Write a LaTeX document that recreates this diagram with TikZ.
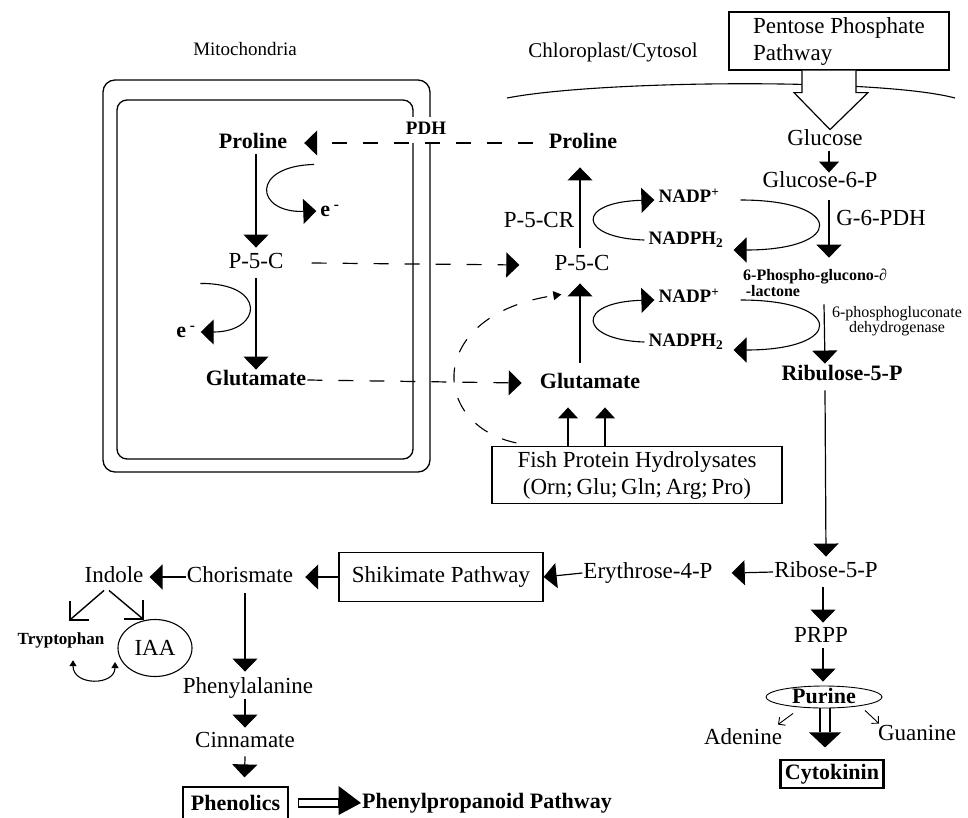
\documentclass[tikz,border=0pt]{standalone}
\usepackage{fontspec}
\setmainfont{Liberation Serif}
\usetikzlibrary{arrows.meta,shapes.geometric}
\newcommand{\fmain}{\fontsize{23}{27}\selectfont}
\newcommand{\fbld}{\fontsize{22}{27}\selectfont\bfseries}
\newcommand{\fmid}{\fontsize{19}{23}\selectfont}
\begin{document}
\begin{tikzpicture}[x=1pt,y=1pt,
  txt/.style={inner sep=1pt,font=\fmain,text height=16pt,text depth=4.5pt},
  btxt/.style={txt,font=\fbld},
  ntxt/.style={inner sep=1pt,font=\fmid\bfseries,text height=13pt,text depth=4pt},
  boxn/.style={draw,line width=1.2pt,inner sep=0pt,font=\fmain},
  arr/.style={line width=1.2pt,-{Triangle[length=13pt,width=25pt]}},
  sarr/.style={line width=1.2pt,-{Triangle[length=11pt,width=20pt]}},
  dsh/.style={dash pattern=on 15pt off 16pt},
  barbline/.style={line width=1.4pt},
  tarr/.style={line width=0.9pt,-{Straight Barb[length=5pt,width=10pt]}},
  thin/.style={line width=1.1pt},
]
\useasboundingbox (0,0) rectangle (968,-817);
\fill[white] (0,0) rectangle (968,-817);

% titles
\node[txt,font=\fmid] (mitT) at (245,-50) {Mitochondria};
\node[txt,font=\fontsize{21}{25}\selectfont] (chlT) at (613,-52) {Chloroplast/Cytosol};
\node[boxn,minimum width=220pt,minimum height=58pt,align=left] (ppp) at (839,-41) {Pentose Phosphate\\Pathway};

% membrane and inflow arrow
\draw[thin] (507,-98) .. controls (600,-80) and (880,-78) .. (955,-98);
\draw[line width=1.2pt,fill=white] ([xshift=-37pt]ppp.south) -- ++(0,-22) -- ++(-8,0) -- ++(36,-37) -- ++(38,37) -- ++(-12,0) -- ++(0,22);

% mitochondria
\draw[line width=1.3pt,rounded corners=12pt] (103,-80) rectangle (430,-472);
\draw[line width=1.3pt,rounded corners=10pt] (117,-100) rectangle (413,-459);
\node[ntxt,fill=white,minimum height=26pt,inner xsep=2pt] (pdh) at (426,-130) {PDH};
\node[btxt] (mPro) at (253,-143) {Proline};
\node[txt] (mP5C) at (256,-263) {P-5-C};
\node[btxt] (mGlu) at (256,-380) {Glutamate};
\node[btxt] (e1) at (330,-211) {e\,\textsuperscript{-}};
\node[btxt] (e2) at (186,-332) {e\,\textsuperscript{-}};

\draw[arr] ([xshift=3pt]mPro.south) -- ([yshift=4pt]mP5C.north);
\draw[arr] ([yshift=-4pt]mP5C.south) -- ([yshift=-1pt]mGlu.north);
\draw[arr,line width=1.1pt] ([xshift=26pt,yshift=-10pt]mPro.south east) .. controls (250,-166) and (255,-213) .. ([xshift=-3pt]e1.west);
\draw[arr,line width=1.1pt] ([xshift=-27pt,yshift=-9pt]mP5C.south west) .. controls (268,-283) and (262,-332) .. ([xshift=4pt]e2.east);

% chloroplast
\node[btxt] (cPro) at (583,-143) {Proline};
\node[txt] (p5cr) at (539,-222) {P-5-CR};
\node[txt] (cP5C) at (582,-265) {P-5-C};
\node[btxt] (cGlu) at (590,-383) {Glutamate};
\node[ntxt] (nadp1) at (689,-198) {NADP\textsuperscript{+}};
\node[ntxt] (nadph1) at (686,-240) {NADPH\textsubscript{2}};
\node[ntxt] (nadp2) at (689,-298) {NADP\textsuperscript{+}};
\node[ntxt] (nadph2) at (686,-342) {NADPH\textsubscript{2}};

\draw[arr] ([xshift=-2pt,yshift=6pt]cP5C.north) -- ([xshift=-3pt,yshift=-13pt]cPro.south);
\draw[arr] ([xshift=-10pt,yshift=9pt]cGlu.north) -- ([xshift=-2pt,yshift=-7pt]cP5C.south);

\draw[arr,thin] ([xshift=-3pt]nadph1.west) .. controls (578,-238) and (575,-202) .. ([xshift=-3pt,yshift=-2pt]nadp1.west);
\draw[arr,thin] ([xshift=20pt,yshift=-2pt]nadp1.east) .. controls (845,-200) and (845,-250) .. ([xshift=9pt,yshift=-10pt]nadph1.east);
\draw[arr,thin] ([xshift=-3pt]nadph2.west) .. controls (578,-340) and (575,-302) .. ([xshift=-3pt,yshift=-2pt]nadp2.west);
\draw[arr,thin] ([xshift=20pt,yshift=-2pt]nadp2.east) .. controls (845,-300) and (845,-350) .. ([xshift=9pt,yshift=-8pt]nadph2.east);

% pentose phosphate chain
\node[txt] (gluc) at (825,-140) {Glucose};
\node[txt] (g6p) at (820,-182) {Glucose-6-P};
\node[txt] (g6pdh) at (881,-220) {G-6-PDH};
\node[inner sep=0pt,anchor=west,align=left,font=\fontsize{16}{11}\selectfont\bfseries] (pgl) at (743,-282.5) {6-Phospho-glucono-∂\\\,-lactone};
\node[inner sep=0pt,align=center,font=\fontsize{16}{13}\selectfont] (pgdh) at (897,-321) {6-phosphogluconate\\dehydrogenase};
\node[btxt] (ru5p) at (842,-375) {Ribulose-5-P};

\draw[sarr] ([xshift=4pt]gluc.south) -- ([xshift=9pt,yshift=-2pt]g6p.north);
\draw[arr] ([xshift=9pt,yshift=-7pt]g6p.south) -- ([xshift=86pt,yshift=11pt]pgl.north west);
\draw[arr] ([xshift=81pt,yshift=-8pt]pgl.south west) -- ([xshift=-17pt]ru5p.north);

% fish protein hydrolysates
\node[boxn,minimum width=290pt,minimum height=57pt,align=center,font=\fontsize{23}{27}\selectfont] (fish) at (637,-475) {Fish Protein Hydrolysates\\(Orn;\,Glu;\,Gln;\,Arg;\,Pro)};
\draw[sarr] ([xshift=-69pt]fish.north) -- ([xshift=-22pt,yshift=-13pt]cGlu.south);
\draw[sarr] ([xshift=-32pt]fish.north) -- ([xshift=15pt,yshift=-13pt]cGlu.south);

% dashed transport lines
\draw[dsh,arr] ([xshift=-15pt]cPro.west) -- ([xshift=16pt]mPro.east);
\draw[dsh,arr] ([xshift=27pt]mP5C.east) -- ([xshift=-34pt]cP5C.west);
\draw[dsh,arr] (mGlu.east) -- ([xshift=-17pt]cGlu.west);
\draw[dsh,line width=1.1pt,-{Triangle[length=8pt,width=9pt]}] ([xshift=25pt,yshift=3pt]fish.north west) .. controls (430,-425) and (425,-315) .. ([xshift=8pt,yshift=-18pt]cP5C.south west);

% lower right
\node[txt] (r5p) at (826,-572) {Ribose-5-P};
\node[txt] (prpp) at (821,-637) {PRPP};
\node[draw,ellipse,line width=0.9pt,minimum width=116pt,minimum height=22pt,inner sep=0pt,font=\fbld,text height=13pt,text depth=1pt] (pur) at (824,-697) {Purine};
\node[txt] (aden) at (743,-739) {Adenine};
\node[txt] (guan) at (917,-735) {Guanine};
\node[draw,line width=2.4pt,minimum width=103pt,minimum height=28pt,inner sep=0pt,font=\fbld] (cyto) at (832,-774) {Cytokinin};

\draw[arr] ([xshift=-17pt,yshift=-4pt]ru5p.south) -- ([yshift=4pt]r5p.north);
\draw[arr] ([xshift=-3pt,yshift=-4pt]r5p.south) -- ([xshift=2pt,yshift=3pt]prpp.north);
\draw[arr] ([xshift=2pt]prpp.south) -- ([xshift=-1pt,yshift=4pt]pur.north);
\draw[tarr] ([xshift=-31pt,yshift=-5pt]pur.south) -- ([xshift=35pt,yshift=3pt]aden.north);
\draw[tarr] ([xshift=41pt,yshift=-2pt]pur.south) -- ([xshift=-38pt]guan.north);
\draw[line width=1.3pt] ([xshift=-4pt]pur.south) -- ++(0,-24);
\draw[line width=1.3pt] ([xshift=6pt]pur.south) -- ++(0,-24);
\fill ([xshift=-15pt,yshift=-24pt]pur.south) -- ++(32,0) -- ++(-16,-15) -- cycle;

% lower left
\node[txt] (e4p) at (648,-573) {Erythrose-4-P};
\node[boxn,minimum width=204pt,minimum height=49pt] (shik) at (441,-577) {Shikimate Pathway};
\node[txt] (chor) at (240,-577) {Chorismate};
\node[txt] (ind) at (114,-577) {Indole};
\node[inner sep=1pt,font=\fontsize{17}{20}\selectfont\bfseries,text height=12pt,text depth=4pt] (tryp) at (61,-640) {Tryptophan};
\node[draw,ellipse,line width=1.1pt,minimum width=74pt,minimum height=57pt,inner sep=0pt,font=\fmain] (iaa) at (155,-648) {IAA};
\node[txt] (phe) at (248,-688) {Phenylalanine};
\node[txt] (cin) at (245,-742) {Cinnamate};
\node[boxn,minimum width=105pt,minimum height=36pt,font=\fbld,text height=16pt,text depth=4.5pt] (phen) at (235.5,-805) {Phenolics};
\node[btxt,anchor=west] (ppath) at (361,-803) {Phenylpropanoid Pathway};

\draw[arr] (r5p.west) -- ([xshift=18pt]e4p.east);
\draw[arr] (e4p.west) -- (shik.east);
\draw[arr] (shik.west) -- ([xshift=11pt]chor.east);
\draw[arr] (chor.west) -- ([xshift=5pt]ind.east);
\coordinate (tL) at ([xshift=9pt,yshift=11pt]tryp.north);
\coordinate (tR) at ([xshift=-12pt]iaa.north);
\draw[barbline] ([xshift=-10pt,yshift=-2pt]ind.south) -- (tL);
\draw[barbline] ([xshift=19pt]tL) -- (tL) -- ([yshift=19pt]tL);
\draw[barbline] ([xshift=-5pt,yshift=-2pt]ind.south) -- (tR);
\draw[barbline] ([xshift=-19pt]tR) -- (tR) -- ([yshift=19pt]tR);
\draw[thin,{Triangle[length=6pt,width=7pt]}-{Triangle[length=6pt,width=7pt]}] ([xshift=12pt,yshift=-11pt]tryp.south) .. controls (73,-686) and (115,-686) .. ([xshift=-40pt,yshift=-14pt]iaa.center);
\draw[arr] ([xshift=5pt,yshift=-5pt]chor.south) -- ([xshift=-3pt,yshift=5pt]phe.north);
\draw[arr] ([xshift=-3pt]phe.south) -- ([yshift=3pt]cin.north);
\draw[arr] ([yshift=-3pt]cin.south) -- ([xshift=9pt,yshift=9pt]phen.north);
\draw[line width=1.2pt,fill=white] ([xshift=10pt,yshift=6pt]phen.east) rectangle ++(40,-8);
\fill ([xshift=50pt,yshift=19pt]phen.east) -- ++(0,-29) -- (ppath.west) -- cycle;
\end{tikzpicture}
\end{document}
